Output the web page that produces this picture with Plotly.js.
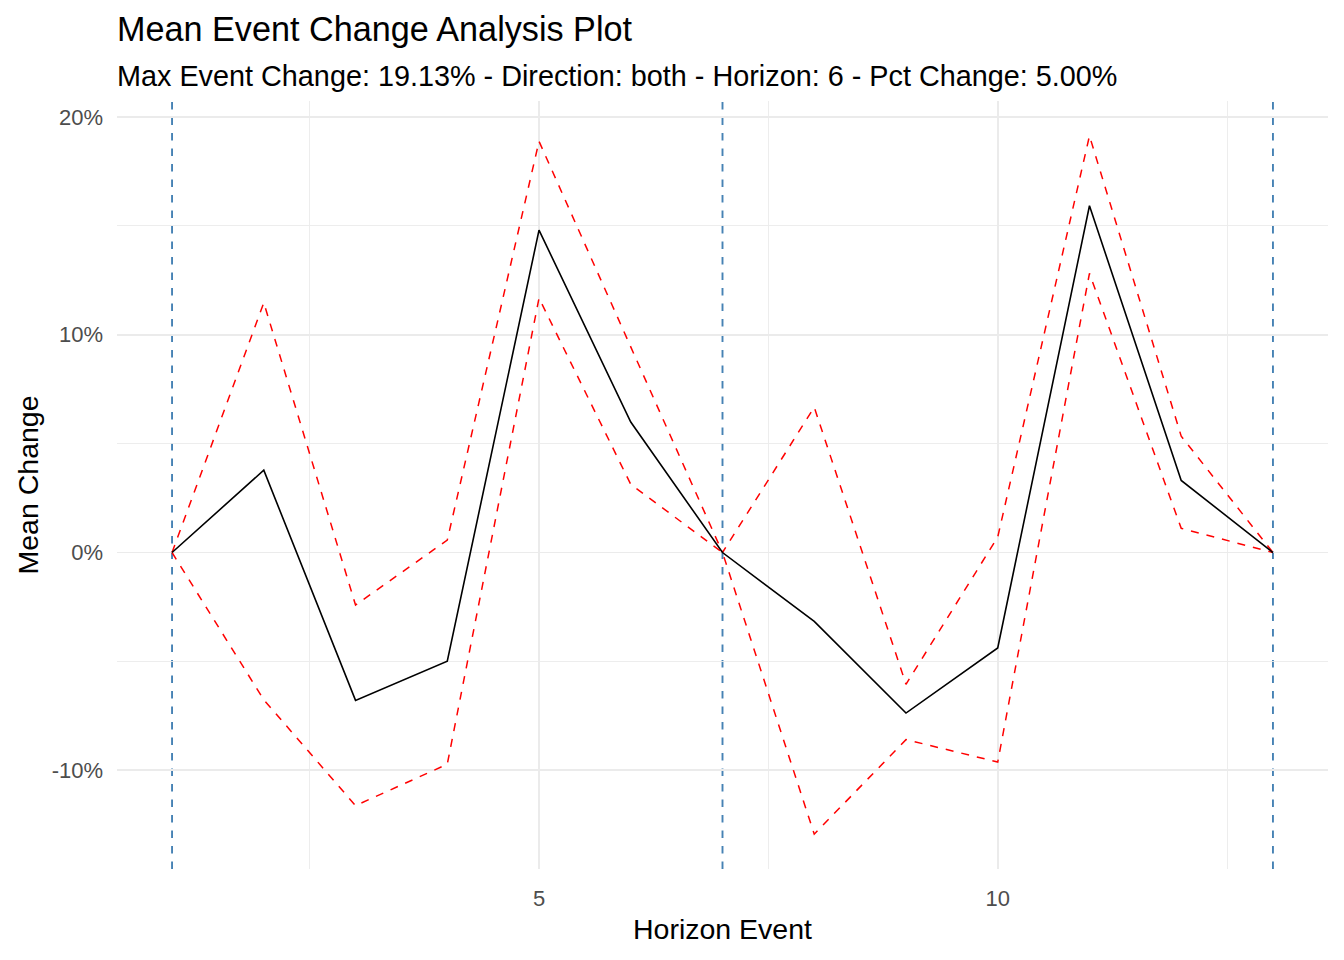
<!DOCTYPE html>
<html>
<head>
<meta charset="utf-8">
<script src="https://cdn.plot.ly/plotly-3.0.1.min.js"></script>
<style>
  html, body { margin: 0; padding: 0; background: #ffffff; }
  #chart { width: 1344px; height: 960px; }
</style>
</head>
<body>
<div id="chart"></div>
<script>
// ---- data (values in percent) ----
const horizonEvent = [1, 2, 3, 4, 5, 6, 7, 8, 9, 10, 11, 12, 13];
const meanChange   = [0, 3.78, -6.79, -4.99, 14.80, 5.99, 0, -3.16, -7.37, -4.38, 15.92, 3.31, 0];
const upperBand    = [0, 11.47, -2.41, 0.57, 18.88, 9.41, 0, 6.67, -6.05, 0.71, 19.13, 5.34, 0];
const lowerBand    = [0, -6.76, -11.62, -9.72, 11.68, 3.13, 0, -12.93, -8.59, -9.62, 12.82, 1.11, 0];
const eventLines   = [1, 7, 13];
const yTickVals    = [-10, 0, 10, 20];
const yTickLabels  = ['-10%', '0%', '10%', '20%'];
const yMinorVals   = [-5, 5, 15];
const xTickVals    = [5, 10];
const xTickLabels  = ['5', '10'];
const xMinorVals   = [2.5, 7.5, 12.5];

const titleText    = 'Mean Event Change Analysis Plot';
const subtitleText = 'Max Event Change: 19.13% - Direction: both - Horizon: 6 - Pct Change: 5.00%';

const FONT = 'Liberation Sans, Arial, Helvetica, sans-serif';

const traces = [
  { x: horizonEvent, y: upperBand, type: 'scatter', mode: 'lines',
    line: { color: '#FF0000', width: 1.5, dash: '8px,8px' }, hoverinfo: 'skip' },
  { x: horizonEvent, y: lowerBand, type: 'scatter', mode: 'lines',
    line: { color: '#FF0000', width: 1.5, dash: '8px,8px' }, hoverinfo: 'skip' },
  { x: horizonEvent, y: meanChange, type: 'scatter', mode: 'lines',
    line: { color: '#000000', width: 1.6 }, hoverinfo: 'skip' }
];

const shapes = eventLines.map(v => ({
  type: 'line', xref: 'x', yref: 'paper', x0: v, x1: v, y0: 0, y1: 1,
  layer: 'between',
  line: { color: '#4682B4', width: 1.9, dash: '7.5px,8px' }
}));

const layout = {
  width: 1344, height: 960,
  margin: { l: 117, r: 16, t: 101, b: 91, pad: 0 },
  paper_bgcolor: '#ffffff', plot_bgcolor: '#ffffff',
  showlegend: false,
  font: { family: FONT, color: '#000000' },
  title: {
    text: titleText,
    font: { family: FONT, size: 34.2, color: '#000000' },
    xref: 'paper', x: 0, xanchor: 'left',
    yref: 'container', y: 1 - 29.5 / 960, yanchor: 'middle'
  },
  annotations: [{
    text: subtitleText, showarrow: false,
    xref: 'paper', x: 0, xanchor: 'left', xshift: -2,
    yref: 'paper', y: (869 - 75.5) / 768, yanchor: 'middle',
    font: { family: FONT, size: 28.8, color: '#000000' }
  }],
  xaxis: {
    range: [0.4, 13.6],
    tickmode: 'array', tickvals: xTickVals, ticktext: xTickLabels,
    ticks: '', ticklabelstandoff: 14,
    tickfont: { family: FONT, size: 22, color: '#4D4D4D' },
    showgrid: true, gridcolor: '#EBEBEB', gridwidth: 1.8,
    minor: { tickmode: 'array', tickvals: xMinorVals, showgrid: true, gridcolor: '#EBEBEB', gridwidth: 0.9, ticks: '' },
    zeroline: false, showline: false, fixedrange: true,
    title: { text: 'Horizon Event', standoff: 9, font: { family: FONT, size: 28.5, color: '#000000' } }
  },
  yaxis: {
    range: [-14.53, 20.73],
    tickmode: 'array', tickvals: yTickVals, ticktext: yTickLabels,
    ticks: '', ticklabelstandoff: 13,
    tickfont: { family: FONT, size: 22, color: '#4D4D4D' },
    showgrid: true, gridcolor: '#EBEBEB', gridwidth: 1.8,
    minor: { tickmode: 'array', tickvals: yMinorVals, showgrid: true, gridcolor: '#EBEBEB', gridwidth: 0.9, ticks: '' },
    zeroline: false, showline: false, fixedrange: true,
    title: { text: 'Mean Change', standoff: 4, font: { family: FONT, size: 28.5, color: '#000000' } }
  },
  shapes: shapes
};

Plotly.newPlot('chart', traces, layout, { displayModeBar: false, staticPlot: true });
</script>
</body>
</html>
